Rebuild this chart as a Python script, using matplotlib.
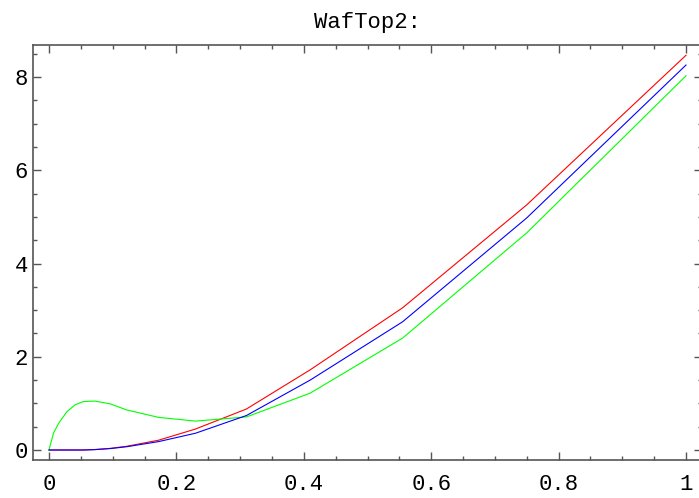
import matplotlib
matplotlib.use("Agg")
import matplotlib.pyplot as plt
from matplotlib.ticker import MultipleLocator

x = [0, 0.007, 0.015, 0.028, 0.041, 0.054, 0.072, 0.096, 0.122, 0.172, 0.23, 0.31, 0.41, 0.555, 0.75, 1.0]
red = [0, 0, 0, 0, 0, 0, 0.01, 0.035, 0.08, 0.21, 0.45, 0.88, 1.72, 3.05, 5.26, 8.47]
blue = [0, 0, 0, 0, 0, 0, 0.008, 0.03, 0.07, 0.18, 0.36, 0.74, 1.50, 2.75, 4.98, 8.26]
green = [0, 0.36, 0.57, 0.82, 0.97, 1.04, 1.05, 0.99, 0.86, 0.70, 0.62, 0.71, 1.22, 2.40, 4.66, 8.03]

xticks = [0, 0.2, 0.4, 0.6, 0.8, 1.0]
xlabels = ["0", "0.2", "0.4", "0.6", "0.8", "1"]
yticks = [0, 2, 4, 6, 8]

plt.rcParams["font.family"] = ["Liberation Mono", "DejaVu Sans Mono"]

fig = plt.figure(figsize=(6.99, 4.98), dpi=100)
ax = fig.add_axes([33 / 699, 1 - 460 / 498, 669 / 699, 415 / 498])

ax.plot(x, red, color="#ff0000", lw=0.8)
ax.plot(x, green, color="#00ff00", lw=0.8)
ax.plot(x, blue, color="#0000ff", lw=0.8)

ax.set_xlim(-0.0251, 1.0251)
ax.set_ylim(-0.2146, 8.69)
ax.set_xticks(xticks)
ax.set_xticklabels(xlabels)
ax.set_yticks(yticks)
ax.xaxis.set_minor_locator(MultipleLocator(0.05))
ax.yaxis.set_minor_locator(MultipleLocator(0.5))
ax.tick_params(which="both", direction="in", top=True, right=True,
               colors="#555555", labelcolor="black", labelsize=16, width=1)
ax.tick_params(which="major", length=6)
ax.tick_params(which="minor", length=3)
ax.tick_params(axis="x", pad=10)
for s in ax.spines.values():
    s.set_color("#555555")
    s.set_linewidth(1.2)

ax.set_title("WafTop2:", fontsize=16, pad=12)

fig.savefig("out.png", dpi=100)
